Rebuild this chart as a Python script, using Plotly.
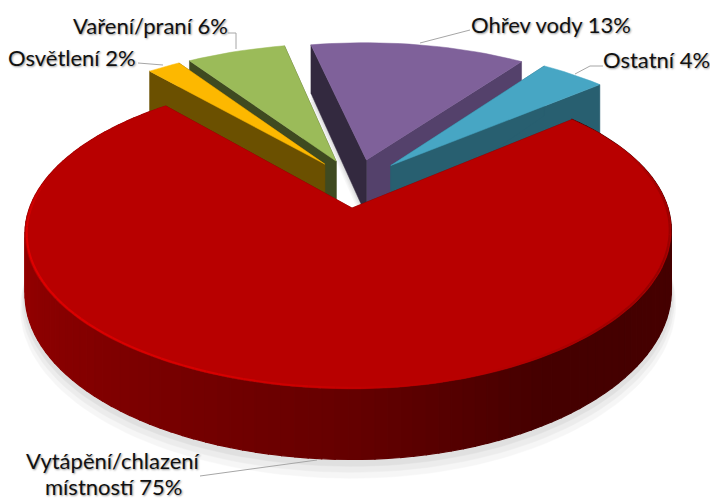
import numpy as np
import plotly.graph_objects as go

# ---- data ----
categories = ["Ostatní", "Ohřev vody", "Vaření/praní", "Osvětlení", "Vytápění/chlazení místností"]
values = [4, 13, 6, 2, 75]
label_lines = [["Ostatní 4%"], ["Ohřev vody 13%"], ["Vaření/praní 6%"], ["Osvětlení 2%"],
               ["Vytápění/chlazení", "místností 75%"]]

# ---- style ----
top_colors = ["#47A6C4", "#7F619A", "#9BBB59", "#FDB800", "#B80000"]
start_face = ["#285F70", "#54416B", "#3F4A20", "#6B5000", "#6B0000"]
end_face = ["#285F70", "#33293F", "#3F4A20", "#6B5000", "#6B0000"]
draw_order = [1, 0, 2, 3, 4]
label_pos = [[(656, 59)], [(551, 24)], [(150, 25)], [(72, 57)], [(113, 460), (113, 486)]]
leaders = [[(603, 66), (590, 66), (575, 74)], [(470, 30), (420, 43)],
           [(228, 33), (236, 33), (236, 49)], [(138, 63), (163, 65)], [(200, 476), (317, 460)]]
start_angle = 40.5
explode = 0.17
CX, CY, RL, RR, RY, H, K, SHEAR = 352, 208, 322.5, 316, 151, 59, 0.165, 7
FONT = "Lato"


def project(x, y, z=0.0):
    x = np.asarray(x, dtype=float)
    y = np.asarray(y, dtype=float)
    w = 1 + K * y
    return CX + (np.where(x < 0, RL, RR) * x + SHEAR * y * np.clip(x, 0, 1)) / w, CY - RY * y / w + H * z / w


# centre of the unexploded pie, so the largest slice's apex lands on the origin
fracs = np.array(values) / sum(values) * 360
edges = start_angle + np.concatenate([[0], np.cumsum(fracs)])
mids = np.radians((edges[:-1] + edges[1:]) / 2)
c0 = -explode * np.array([np.cos(mids[4]), np.sin(mids[4])])

fig = go.Figure()


def poly(xs, ys, color, opacity=1.0, lw=0.5):
    fig.add_trace(go.Scatter(x=list(xs) + [xs[0]], y=list(ys) + [ys[0]], mode="lines", fill="toself",
                             fillcolor=color, line=dict(color=color, width=lw), opacity=opacity,
                             hoverinfo="skip", showlegend=False))


def slice_geom(i):
    ox, oy = c0 + explode * np.array([np.cos(mids[i]), np.sin(mids[i])])
    th = np.radians(np.linspace(edges[i], edges[i + 1], max(6, int(fracs[i] / 2))))
    return ox, oy, th


def red_wall_color(t):
    stops_t = [180, 225, 270, 300, 420]
    stops_r = [155, 130, 100, 70, 68]
    return f"rgb({int(np.interp(t, stops_t, stops_r))},0,0)"


# drop shadows
for i in draw_order:
    ox, oy, th = slice_geom(i)
    for dz, op in [(1.22, 0.05), (1.15, 0.06), (1.08, 0.08)]:
        g = 1 + (dz - 1) * 0.06
        xs, ys = project(np.r_[ox, ox + g * np.cos(th)], np.r_[oy, oy + g * np.sin(th)], dz)
        poly(xs, ys, "#606060", op)

for i in draw_order:
    ox, oy, th = slice_geom(i)
    cx_, cy_ = np.cos(th), np.sin(th)
    # radial faces
    for t_idx, col in [(0, start_face[i]), (-1, end_face[i])]:
        px = np.array([ox, ox + cx_[t_idx]])
        py = np.array([oy, oy + cy_[t_idx]])
        a = project(px, py, 0)
        b = project(px[::-1], py[::-1], 1)
        poly(np.r_[a[0], b[0]], np.r_[a[1], b[1]], col)
    # outer wall of the big slice
    if i == 4:
        for j in range(len(th) - 1):
            t = np.degrees(th[j])
            if t > 400:
                continue
            px, py = ox + cx_[j:j + 2], oy + cy_[j:j + 2]
            a = project(px, py, 0)
            b = project(px[::-1], py[::-1], 1)
            poly(np.r_[a[0], b[0]], np.r_[a[1], b[1]], red_wall_color(t), lw=1.2)
    # top face
    xs, ys = project(np.r_[ox, ox + cx_], np.r_[oy, oy + cy_], 0)
    poly(xs, ys, top_colors[i])
    # rim highlight on the big slice
    if i == 4:
        for j in range(len(th) - 1):
            t = np.degrees(th[j])
            if t < 170 or t > 385:
                continue
            glow = np.interp(t, [170, 190, 250, 275, 290, 330, 365, 385], [195, 225, 215, 190, 184, 150, 160, 184])
            a = project(ox + 0.995 * cx_[j:j + 2], oy + 0.995 * cy_[j:j + 2], 0)
            fig.add_trace(go.Scatter(x=a[0], y=a[1], mode="lines",
                                     line=dict(color=f"rgb({int(glow)},0,0)", width=2),
                                     hoverinfo="skip", showlegend=False))

# leaders
for pts in leaders:
    fig.add_trace(go.Scatter(x=[p[0] for p in pts], y=[p[1] for p in pts], mode="lines",
                             line=dict(color="#A6A6A6", width=1), hoverinfo="skip", showlegend=False))

# labels
for lines, pos in zip(label_lines, label_pos):
    for txt, (x, y) in zip(lines, pos):
        fig.add_annotation(x=x, y=y, text=txt, showarrow=False, xanchor="center",
                           yanchor="middle", xref="x", yref="y",
                           font=dict(family=FONT, size=22, color="#111111", shadow="1px 1px 2px #999999"))

fig.update_layout(width=710, height=500, margin=dict(l=0, r=0, t=0, b=0), paper_bgcolor="white",
                  plot_bgcolor="white", showlegend=False,
                  xaxis=dict(range=[0, 710], visible=False, fixedrange=True),
                  yaxis=dict(range=[500, 0], visible=False, fixedrange=True))
fig.write_html("out.html", config=dict(displayModeBar=False),
               post_script="document.body.style.margin='0';")
